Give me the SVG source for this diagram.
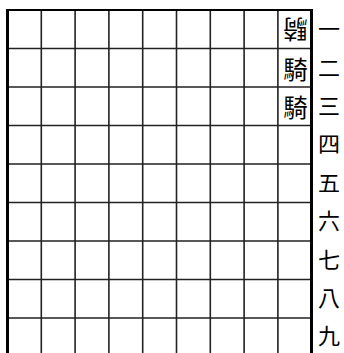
<svg xmlns="http://www.w3.org/2000/svg" width="344" height="353" viewBox="0 0 344 353">
<style>
.g{stroke:#222;stroke-width:1.6;fill:none}
.b{stroke:#000;fill:none}
.rk{font-family:"Noto Sans CJK JP",sans-serif;font-size:22px;fill:#000;text-anchor:middle;dominant-baseline:central}
.pc{font-family:"Noto Sans CJK JP",sans-serif;font-size:24.5px;fill:#000;text-anchor:middle;dominant-baseline:central}
</style>
<rect width="344" height="353" fill="#fff"/>
<g id="board">
<g class="g">
<path d="M41.3 10V360M75.1 10V360M108.9 10V360M142.7 10V360M176.5 10V360M210.3 10V360M244.1 10V360M277.9 10V360"/>
<path d="M7 48.5H312M7 87H312M7 125.5H312M7 164H312M7 202.5H312M7 241H312M7 279.5H312M7 318H312"/>
</g>
<path class="b" stroke-width="2" d="M6 10H313"/>
<path class="b" stroke-width="3" d="M7.5 9V360M311.5 9V360"/>
</g>
<g id="ranks">
<text class="rk" x="329" y="27">一</text>
<text class="rk" x="329" y="66">二</text>
<text class="rk" x="329" y="104">三</text>
<text class="rk" x="329" y="142">四</text>
<text class="rk" x="329" y="181">五</text>
<text class="rk" x="329" y="219">六</text>
<text class="rk" x="329" y="258">七</text>
<text class="rk" x="329" y="296">八</text>
<text class="rk" x="329" y="334">九</text>
</g>
<g id="piece-1-1"><text class="pc" transform="translate(295.5,30) rotate(180)">騎</text></g>
<g id="piece-1-2"><text class="pc" x="295.5" y="68.5">騎</text></g>
<g id="piece-1-3"><text class="pc" x="295.5" y="106.5">騎</text></g>
</svg>
